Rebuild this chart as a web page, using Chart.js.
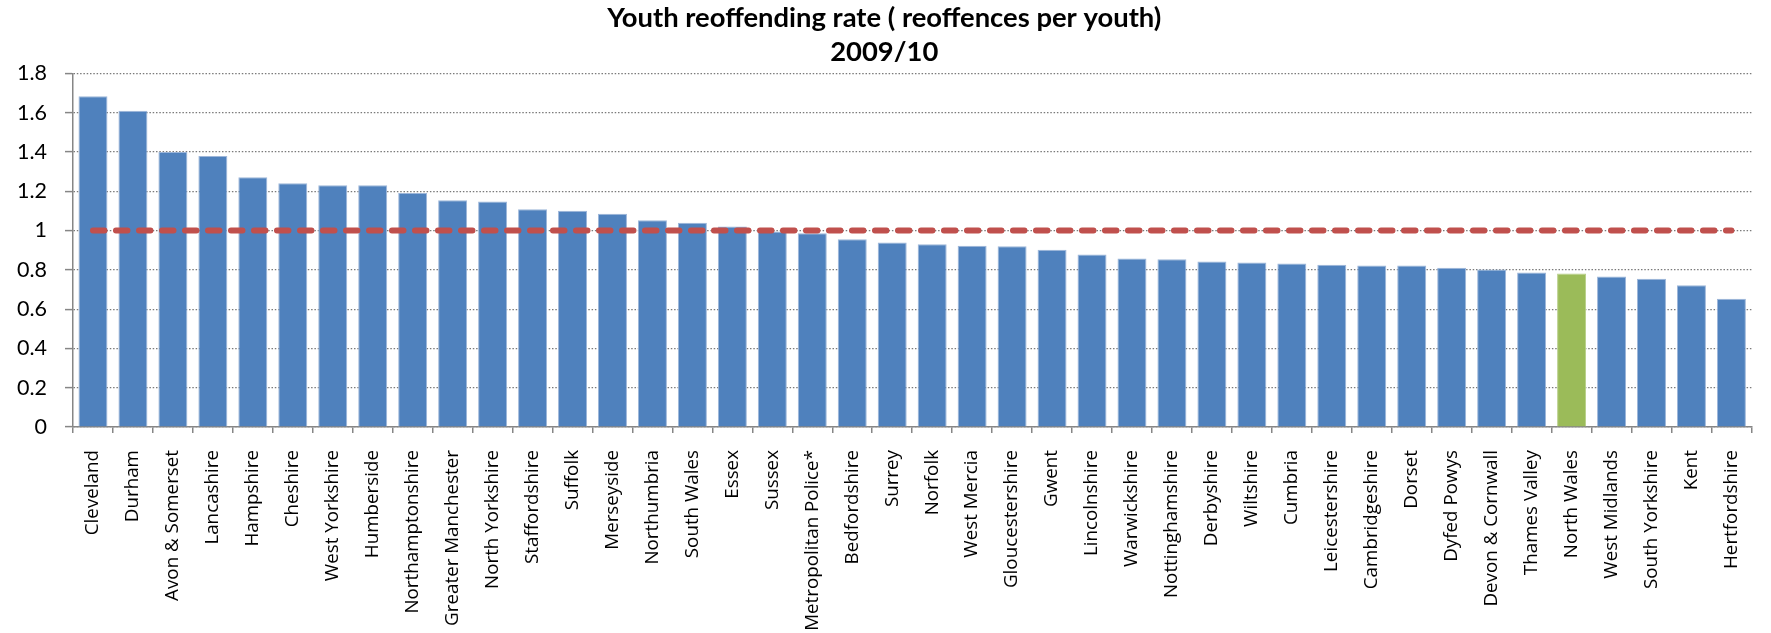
<!DOCTYPE html>
<html>
<head>
<meta charset="utf-8">
<title>Youth reoffending rate 2009/10</title>
<script src="https://cdn.jsdelivr.net/npm/chart.js@4.4.1/dist/chart.umd.min.js"></script>
<style>
  html, body { margin: 0; padding: 0; background: #fff; }
  #wrap { width: 1771px; height: 633px; position: relative; }
</style>
</head>
<body>
<div id="wrap"><canvas id="chart"></canvas></div>
<script>
// Youth offending areas, sorted by rate
const areas = [
  'Cleveland', 'Durham', 'Avon & Somerset', 'Lancashire', 'Hampshire', 'Cheshire',
  'West Yorkshire', 'Humberside', 'Northamptonshire', 'Greater Manchester', 'North Yorkshire',
  'Staffordshire', 'Suffolk', 'Merseyside', 'Northumbria', 'South Wales', 'Essex', 'Sussex',
  'Metropolitan Police*', 'Bedfordshire', 'Surrey', 'Norfolk', 'West Mercia', 'Gloucestershire',
  'Gwent', 'Lincolnshire', 'Warwickshire', 'Nottinghamshire', 'Derbyshire', 'Wiltshire',
  'Cumbria', 'Leicestershire', 'Cambridgeshire', 'Dorset', 'Dyfed Powys', 'Devon & Cornwall',
  'Thames Valley', 'North Wales', 'West Midlands', 'South Yorkshire', 'Kent', 'Hertfordshire'
];

// reoffences per youth
const reoffendingRate = [
  1.683, 1.610, 1.399, 1.379, 1.271, 1.240,
  1.230, 1.230, 1.191, 1.154, 1.147,
  1.108, 1.101, 1.085, 1.052, 1.039, 1.021, 0.995,
  0.986, 0.956, 0.939, 0.930, 0.922, 0.920,
  0.902, 0.878, 0.858, 0.854, 0.842, 0.837,
  0.832, 0.826, 0.822, 0.822, 0.810, 0.802,
  0.786, 0.781, 0.766, 0.755, 0.722, 0.653
];

// the dashed reference line at 1
const referenceLine = [
  1, 1, 1, 1, 1, 1, 1, 1, 1, 1, 1, 1, 1, 1, 1, 1, 1, 1, 1, 1, 1,
  1, 1, 1, 1, 1, 1, 1, 1, 1, 1, 1, 1, 1, 1, 1, 1, 1, 1, 1, 1, 1
];

const yTicks = [0, 0.2, 0.4, 0.6, 0.8, 1, 1.2, 1.4, 1.6, 1.8];
const yTickLabels = ['0', '0.2', '0.4', '0.6', '0.8', '1', '1.2', '1.4', '1.6', '1.8'];

const titleLines = ['Youth reoffending rate ( reoffences per youth)', '2009/10'];
const highlightArea = 'North Wales';

const axisGrey = '#868686';
const barColors = areas.map(a => a === highlightArea ? '#9BBB59' : '#4F81BD');
const barEdges = areas.map(a => a === highlightArea ? '#B9D08A' : '#9DB6D9');

const ctx = document.getElementById('chart').getContext('2d');

new Chart(ctx, {
  type: 'bar',
  data: {
    labels: areas,
    datasets: [
      {
        type: 'line',
        data: referenceLine,
        borderColor: '#C0504D',
        borderWidth: 6,
        borderDash: [11.5, 11.5],
        borderCapStyle: 'round',
        pointRadius: 0,
        fill: false,
        order: 0
      },
      {
        type: 'bar',
        data: reoffendingRate,
        backgroundColor: barColors,
        borderColor: barEdges,
        borderWidth: 1,
        barPercentage: 0.725,
        categoryPercentage: 1,
        order: 1
      }
    ]
  },
  options: {
    responsive: true,
    maintainAspectRatio: false,
    animation: false,
    layout: { padding: { left: 0, right: 2.5, top: 0, bottom: 0 } },
    plugins: {
      legend: { display: false },
      tooltip: { enabled: false },
      title: {
        display: true,
        text: titleLines,
        color: '#000',
        font: { family: 'Lato', size: 27.4, weight: 'bold', lineHeight: 1.21 },
        padding: { top: 2, bottom: 5 }
      }
    },
    scales: {
      x: {
        offset: true,
        grid: {
          offset: true,
          drawOnChartArea: false,
          drawTicks: true,
          tickLength: 6,
          color: axisGrey,
          lineWidth: 1.5
        },
        border: { display: true, color: axisGrey, width: 1.5 },
        ticks: {
          autoSkip: false,
          minRotation: 90,
          maxRotation: 90,
          padding: 17,
          color: '#000',
          font: { family: '"Open Sans", "DejaVu Sans", sans-serif', size: 18.8 }
        },
        afterFit(scale) { scale.height = 206; }
      },
      y: {
        min: 0,
        max: 1.8,
        afterBuildTicks(scale) {
          scale.ticks = yTicks.map(v => ({ value: v }));
        },
        grid: {
          color: '#7a7a7a',
          lineWidth: 1.2,
          tickLength: 8,
          tickWidth: 1.5,
          tickColor: axisGrey
        },
        border: { display: true, color: axisGrey, width: 1.5, dash: [1.5, 1.8] },
        ticks: {
          padding: 18,
          color: '#000',
          font: { family: 'Lato', size: 21.5 },
          callback: (value, index) => yTickLabels[index]
        },
        afterFit(scale) { scale.width = 73; }
      }
    }
  }
});
</script>
</body>
</html>
